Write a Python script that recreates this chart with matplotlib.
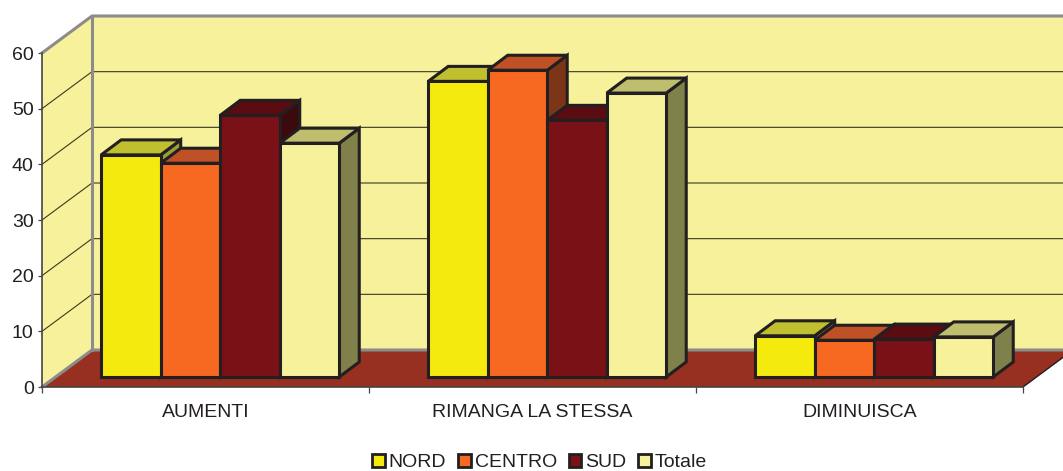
import matplotlib
matplotlib.use("Agg")
import matplotlib.pyplot as plt
from matplotlib.patches import Polygon, Patch

plt.rcParams['font.family'] = ['Liberation Sans', 'DejaVu Sans']

categories = ["AUMENTI", "RIMANGA LA STESSA", "DIMINUISCA"]
series_names = ["NORD", "CENTRO", "SUD", "Totale"]
nord = [39.9, 53.1, 7.4]
centro = [38.4, 55.1, 6.6]
sud = [47.0, 46.1, 6.8]
totale = [42.0, 51.0, 7.2]

front_colors = ["#F5EA0E", "#F76820", "#7A1116", "#F6F19A"]
top_colors = ["#BFBF30", "#C05025", "#5A0C10", "#BFBD6E"]
side_colors = ["#9C9C3A", "#7D3517", "#3A0A0E", "#80804A"]
wall_color = "#F6F19A"
floor_color = "#973020"
edge_color = "#231F20"
wall_edge = "#8C8C8C"

# depth of the box, in data units (x = categories, y = values)
depth_x = 50 / 327
depth_y = 37 / (334 / 60)
bar_width = 0.182
bar_start = 0.181
bar_depth_x = 20 / 327
bar_depth_y = 15 / (334 / 60)
bar_base = 1.8

fig = plt.figure(figsize=(10.63, 4.71), dpi=100)
ax = fig.add_axes([42 / 1063, (471 - 387) / 471, 981 / 1063, 334 / 471])
ax.set_xlim(0, 3)
ax.set_ylim(0, 60)

def poly(points, face, edge="none", lw=0, z=1):
    ax.add_patch(Polygon(points, closed=True, facecolor=face, edgecolor=edge,
                         linewidth=lw, zorder=z, clip_on=False, joinstyle="miter"))

# walls and floor
right = 3 + depth_x
poly([(0, 0), (depth_x, depth_y), (depth_x, 60 + depth_y), (0, 60)], wall_color)
poly([(depth_x, depth_y), (right, depth_y), (right, 60 + depth_y), (depth_x, 60 + depth_y)], wall_color)
poly([(0, 0), (3, 0), (right, depth_y), (depth_x, depth_y)], floor_color)

# gridlines on both walls
for v in range(10, 60, 10):
    ax.plot([0, depth_x, right], [v, v + depth_y, v + depth_y], color="#3A3A20",
            lw=0.8, zorder=2, clip_on=False)

# grey edges of the box
ax.plot([0, depth_x, right], [60, 60 + depth_y, 60 + depth_y], color=wall_edge, lw=2.2,
        zorder=3, clip_on=False)
ax.plot([depth_x, depth_x], [depth_y, 60 + depth_y], color=wall_edge, lw=2.2, zorder=3,
        clip_on=False)
ax.plot([0, depth_x, right], [0, depth_y, depth_y], color=wall_edge, lw=2.2, zorder=3,
        clip_on=False)
ax.plot([3, right], [0, depth_y], color=edge_color, lw=1.0, zorder=3, clip_on=False)

# bars, left to right so that each one covers the side of the one before
z = 4
for g in range(len(categories)):
    for s, values in enumerate([nord, centro, sud, totale]):
        x0 = g + bar_start + s * bar_width
        x1 = x0 + bar_width
        y0 = bar_base
        y1 = bar_base + values[g]
        poly([(x1, y0), (x1 + bar_depth_x, y0 + bar_depth_y),
              (x1 + bar_depth_x, y1 + bar_depth_y), (x1, y1)],
             side_colors[s], edge_color, 2.2, z)
        poly([(x0, y1), (x1, y1), (x1 + bar_depth_x, y1 + bar_depth_y),
              (x0 + bar_depth_x, y1 + bar_depth_y)],
             top_colors[s], edge_color, 2.2, z)
        poly([(x0, y0), (x1, y0), (x1, y1), (x0, y1)],
             front_colors[s], edge_color, 2.2, z)
        z += 1

# axes
for side in ["top", "right"]:
    ax.spines[side].set_visible(False)
for side in ["left", "bottom"]:
    ax.spines[side].set_color("#444444")
    ax.spines[side].set_linewidth(1.2)
    ax.spines[side].set_zorder(30)
ax.set_yticks(range(0, 70, 10))
ax.set_xticks([0, 1, 2, 3])
ax.set_xticklabels([])
ax.set_xticks([0.5, 1.5, 2.5], minor=True)
ax.set_xticklabels(categories, minor=True, fontsize=14, color="#231F20")
ax.tick_params(axis="x", which="major", length=4.5, width=0.9, color="#444444")
ax.tick_params(axis="x", which="minor", length=0, pad=12)
ax.tick_params(axis="y", length=3, width=0.9, color="#444444", pad=3,
               labelsize=14, labelcolor="#231F20")

# legend
handles = [Patch(facecolor=c, edgecolor=edge_color, linewidth=2.0, label=n)
           for c, n in zip(front_colors, series_names)]
fig.legend(handles=handles, loc="center", bbox_to_anchor=(539.5 / 1063, 1 - 462.5 / 471),
           ncol=4, frameon=False, fontsize=14, handlelength=0.66, handleheight=0.66,
           handletextpad=0.2, columnspacing=0.6, borderpad=0, labelcolor="#231F20")

fig.savefig("out.png", dpi=100)
